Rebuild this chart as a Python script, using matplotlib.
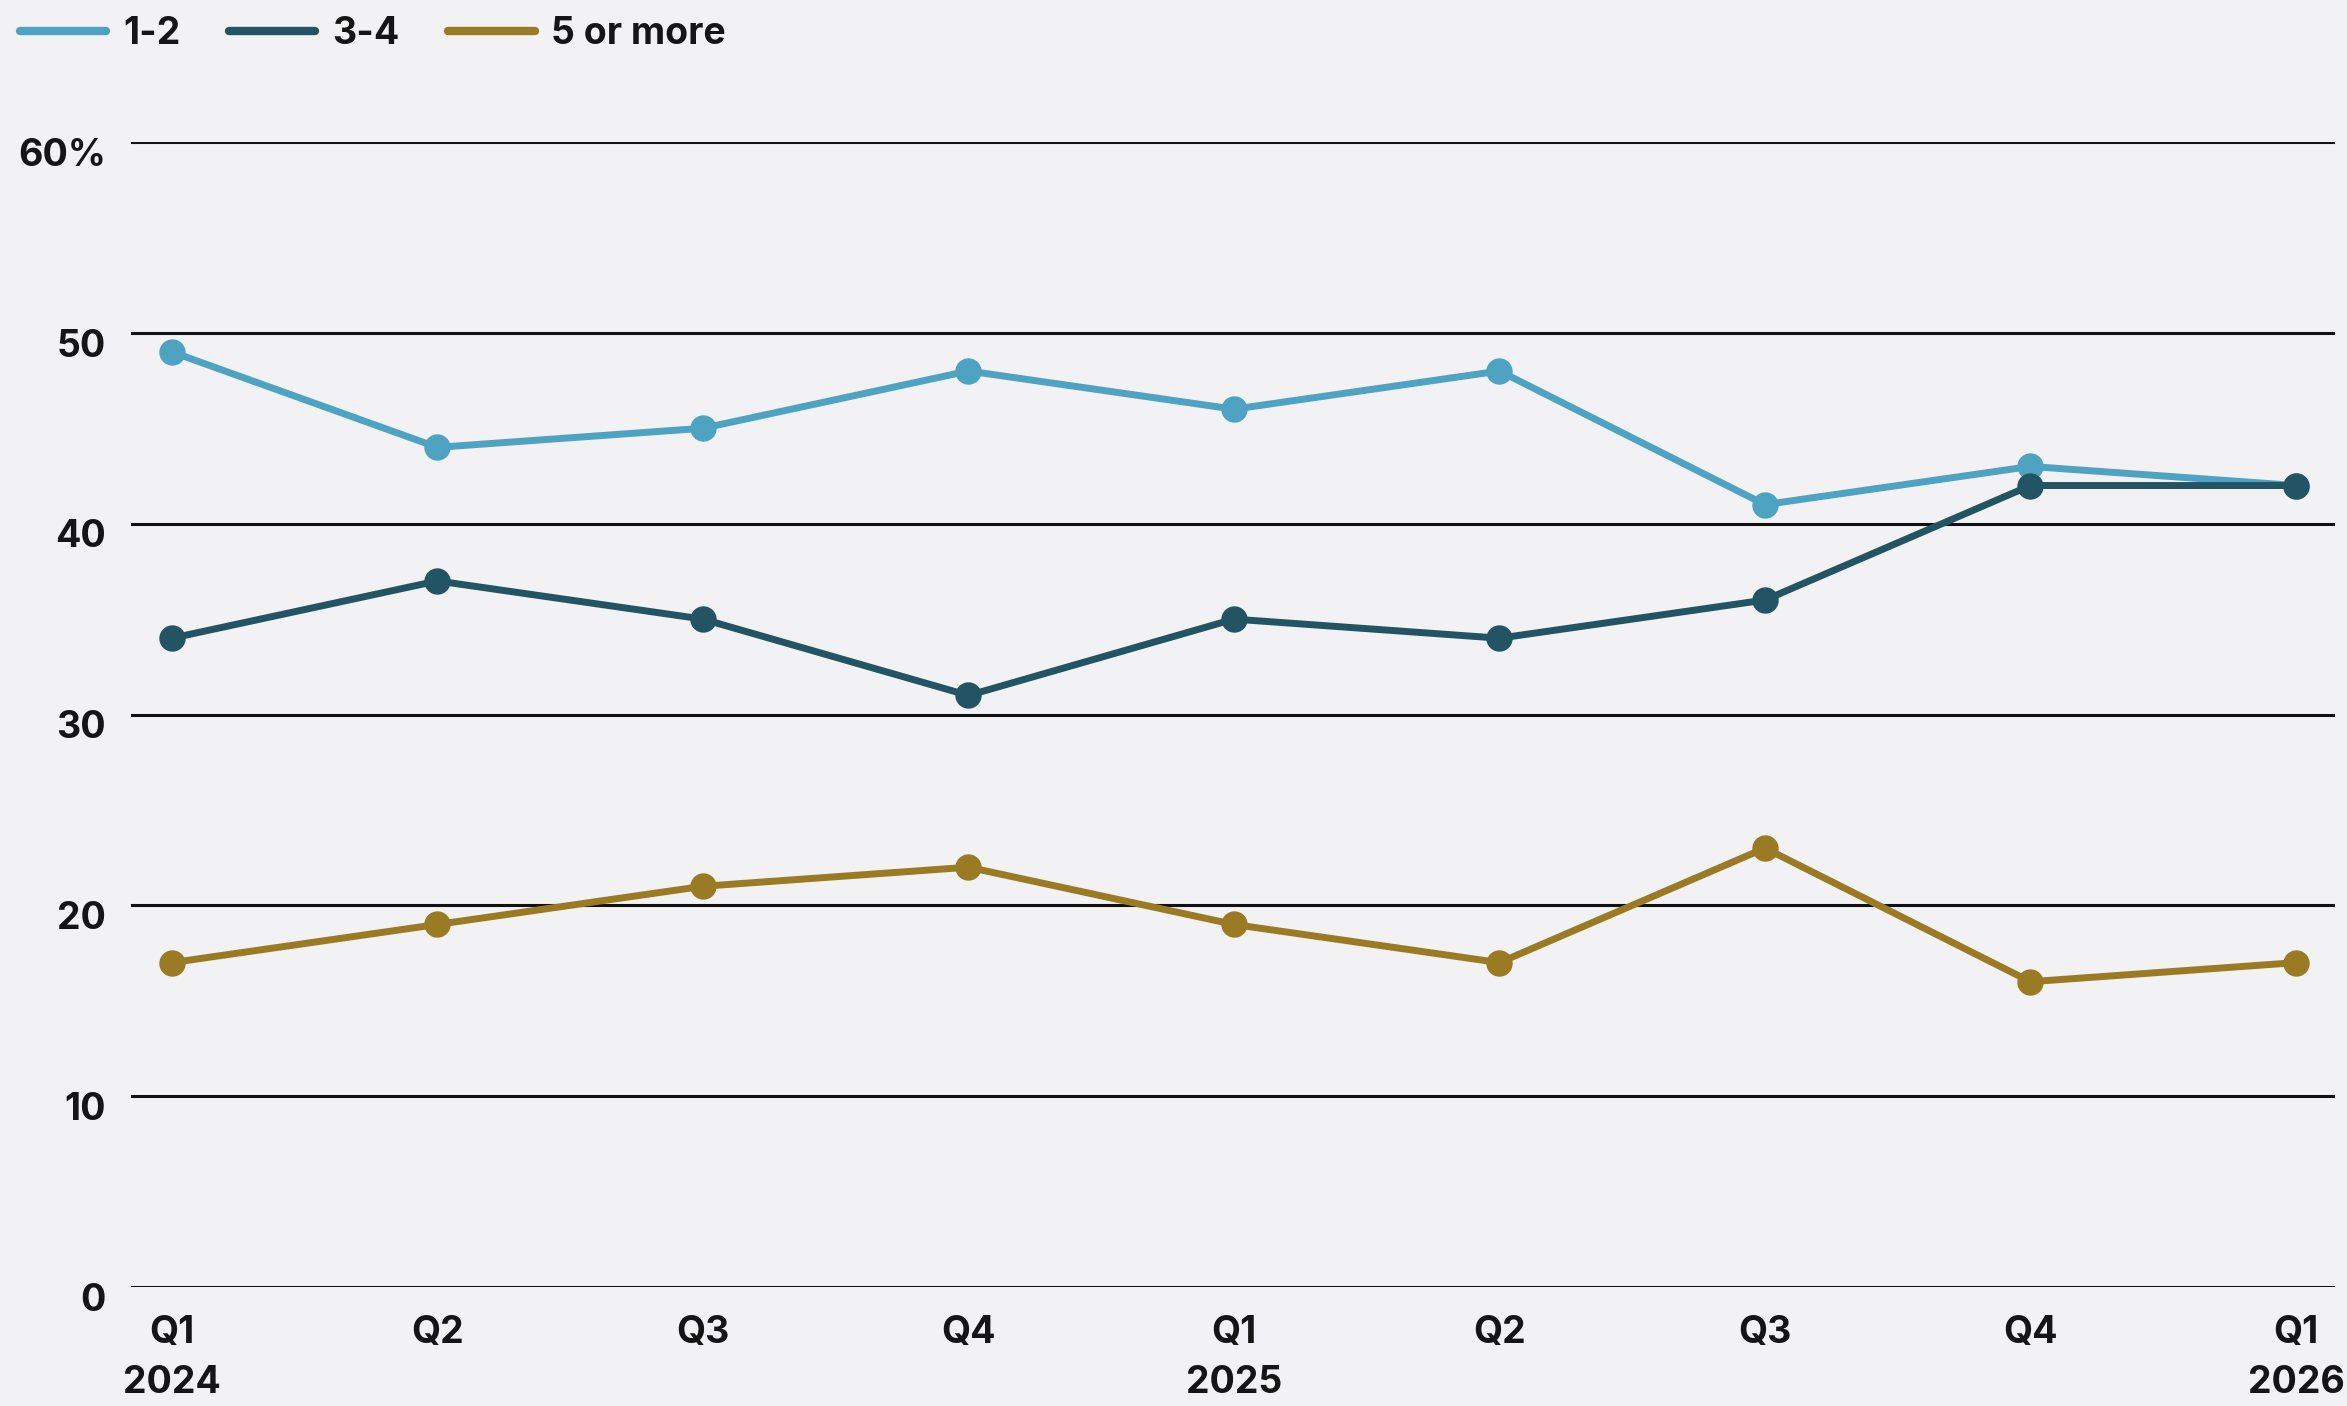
import matplotlib.pyplot as plt
import matplotlib.transforms as mtransforms

plt.rcParams['font.family'] = ['Inter', 'DejaVu Sans']
plt.rcParams['font.weight'] = 'bold'

# quarters, Q1 2024 .. Q1 2026
quarters = ['Q1\n2024', 'Q2', 'Q3', 'Q4', 'Q1\n2025', 'Q2', 'Q3', 'Q4', 'Q1\n2026']
share_1_2 = [49, 44, 45, 48, 46, 48, 41, 43, 42]
share_3_4 = [34, 37, 35, 31, 35, 34, 36, 42, 42]
share_5_plus = [17, 19, 21, 22, 19, 17, 23, 16, 17]

series = [
    ('1-2', share_1_2, '#4fa3c2'),
    ('3-4', share_3_4, '#225464'),
    ('5 or more', share_5_plus, '#9a7b24'),
]
yticks = [0, 10, 20, 30, 40, 50, 60]
ytick_labels = ['0', '10', '20', '30', '40', '50', '60%']

bg = '#f2f2f4'
fig = plt.figure(figsize=(23.47, 14.06), dpi=100, facecolor=bg)
ax = fig.add_axes([0.0558, 0.0846, 0.9391, 0.8144], facecolor=bg)

x = list(range(len(quarters)))
for name, vals, color in series:
    ax.plot(x, vals, color=color, lw=5, marker='o', markersize=19,
            markeredgewidth=0, label=name, clip_on=False, zorder=3,
            solid_capstyle='round')

ax.set_ylim(0, 60)
ax.set_xlim(-0.154, 8.147)
ax.set_yticks(yticks)
ax.set_yticklabels(ytick_labels)
ax.set_xticks(x)
ax.set_xticklabels(quarters, linespacing=1.52, va='top')
ax.grid(axis='y', color='#111111', lw=2.2, zorder=1)
ax.grid(axis='x', visible=False)
for s in ax.spines.values():
    s.set_visible(False)
ax.tick_params(axis='both', length=0, labelsize=27, labelcolor='#151515')
ax.tick_params(axis='y', pad=18)
ax.tick_params(axis='x', pad=20)

# nudge y labels slightly below their gridlines
off = mtransforms.ScaledTranslation(0, -7 / 72, fig.dpi_scale_trans)
for lab in ax.get_yticklabels():
    lab.set_transform(lab.get_transform() + off)

leg = fig.legend(loc='upper left', bbox_to_anchor=(20 / 2347, 1 - 16 / 1406),
                 ncol=3, frameon=False, fontsize=27, handlelength=2.3,
                 handletextpad=0.45, columnspacing=1.3, borderpad=0,
                 borderaxespad=0)
for h in leg.get_lines():
    h.set_linewidth(6)
    h.set_marker('')
    h.set_solid_capstyle('round')
for t in leg.get_texts():
    t.set_color('#151515')

fig.savefig('out.png', dpi=100, facecolor=bg)
